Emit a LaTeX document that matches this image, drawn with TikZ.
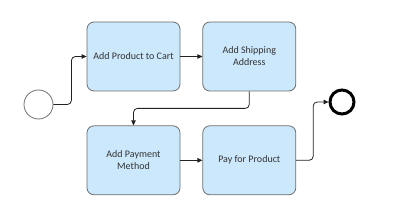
\documentclass[tikz,border=0pt]{standalone}
\usepackage{fontspec}
\setmainfont{Carlito}
\usetikzlibrary{positioning, arrows.meta}
\definecolor{taskfill}{HTML}{CCE8FC}
\definecolor{taskline}{HTML}{6E6E6E}
\definecolor{flowline}{HTML}{222222}

\begin{document}
\begin{tikzpicture}[
  x=1pt, y=1pt,
  font=\fontsize{10}{12}\selectfont,
  task/.style={rectangle, rounded corners=7pt, draw=taskline, fill=taskfill, line width=0.8pt, minimum width=93pt, minimum height=69pt, align=center, text=black!80},
  startev/.style={circle, draw=taskline, line width=0.8pt, minimum size=29pt, inner sep=0pt},
  endev/.style={circle, draw=black, line width=3pt, minimum size=24pt, inner sep=0pt},
  arr/.style={-{Triangle[length=5pt, width=4.5pt]}, line width=0.8pt, draw=flowline, rounded corners=4pt}
]
\useasboundingbox (0,0) rectangle (400,-213);
% ----- tasks -----
\node[task] (cart) at (133.5,-56.5) {Add Product to Cart};
\node[task, right=22pt of cart] (ship) {Add Shipping\\Address};
\node[task, below=34pt of cart] (payment) {Add Payment\\Method};
\node[task, right=22pt of payment] (payprod) {Pay for Product};
% ----- events -----
\node[startev] (start) at (38.5,-104.5) {};
\node[endev] (finish) at (342,-102) {};
% ----- flows -----
\draw[arr] (start.east) -- ++(18,0) |- (cart.west);
\draw[arr] (cart) -- (ship);
\draw[arr] (ship.south) -- ++(0,-17) -| (payment.north);
\draw[arr] (payment) -- (payprod);
\draw[arr] (payprod.east) -- ++(17,0) |- (finish.west);
\end{tikzpicture}
\end{document}
